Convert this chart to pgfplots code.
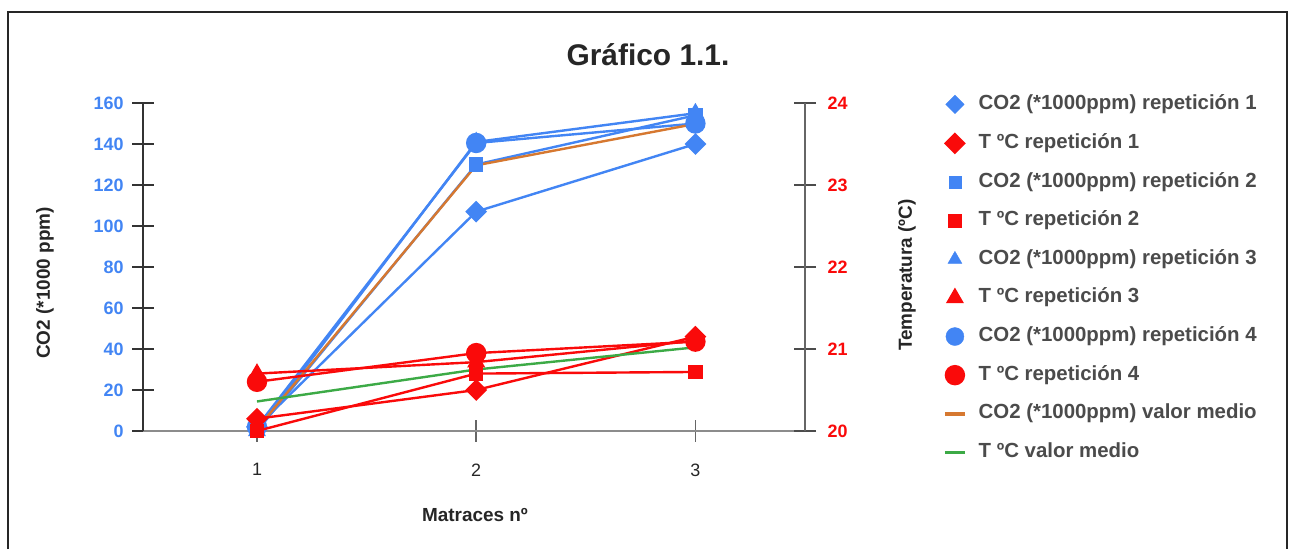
\documentclass[border=0pt]{standalone}
\usepackage{fontspec}
\setmainfont{Liberation Sans}
\usepackage{pgfplots}
\pgfplotsset{compat=1.18}
\definecolor{cblue}{RGB}{66,133,244}
\definecolor{cred}{RGB}{250,10,10}
\definecolor{corange}{RGB}{214,120,48}
\definecolor{cgreen}{RGB}{60,170,70}
\definecolor{ctext}{RGB}{75,75,75}
\pgfplotsset{
  base/.style={scale only axis, width=662bp, height=328bp, at={(0pt,0pt)}, anchor=south west,
    xmin=0.48, xmax=3.5, clip=false,
    /pgf/number format/assume math mode=true,
    tick align=center, major tick length=22bp},
  ser/.style={line width=2.4bp, mark options={solid}},
  mdia/.style={mark=square*, mark size=6.5bp, mark options={rotate=45}},
  msq/.style={mark=square*, mark size=6bp},
  mtri/.style={mark=triangle*, mark size=8bp},
  mcirc/.style={mark=*, mark size=9bp},
  limark/.style={legend image code/.code={\path[draw=none,fill=none] (-10bp,-7bp) rectangle (10bp,7bp); \draw[##1] plot coordinates {(0,0)};}},
  liline/.style={legend image code/.code={\path[draw=none,fill=none] (-10bp,-7bp) rectangle (10bp,7bp); \draw[##1, line width=3.5bp] (-10bp,0) -- (10bp,0);}},
}
\begin{document}
\begin{tikzpicture}
\fill[white] (0bp,0bp) rectangle (1291bp,549bp);
\draw[line width=2bp, black!85] (8bp,0bp) -- (8bp,537bp) -- (1287bp,537bp) -- (1287bp,0bp);
\node[font=\fontsize{30}{34}\selectfont\bfseries, text=black!85] at (648bp,494bp) {Gráfico 1.1.};
\node[font=\fontsize{19}{22}\selectfont\bfseries, text=black!85, rotate=90] at (45bp,266bp) {CO2 (*1000 ppm)};
\node[font=\fontsize{19}{22}\selectfont\bfseries, text=black!85, rotate=90] at (907bp,274bp) {Temperatura (ºC)};
\node[font=\fontsize{19}{22}\selectfont\bfseries, text=black!85] at (475bp,34bp) {Matraces nº};

\begin{scope}[shift={(143bp,118bp)}]
\begin{axis}[base,
  ymin=0, ymax=160, ytick={0,20,...,160},
  axis x line*=bottom, axis y line*=left,
  xtick={1,2,3},
  x axis line style={-, black!45, line width=1.6bp},
  y axis line style={-, black!80, line width=1.6bp},
  xtick style={black!60, line width=1.6bp},
  ytick style={black!80, line width=1.6bp},
  xticklabel style={font=\fontsize{18}{20}\selectfont, text=black!85, yshift=-18bp},
  yticklabel style={font=\fontsize{18}{20}\selectfont\bfseries, text=cblue, xshift=-5bp},
]
\addplot[ser, cblue, mdia] coordinates {(1,2) (2,107) (3,140)};
\addplot[ser, cblue, msq] coordinates {(1,0) (2,130) (3,154)};
\addplot[ser, cblue, mtri] coordinates {(1,0) (2,141) (3,155)};
\addplot[ser, cblue, mcirc] coordinates {(1,2) (2,140.5) (3,150)};
\addplot[ser, corange, mark=none] coordinates {(1,1) (2,129.6) (3,149.8)};
\end{axis}
\end{scope}

\begin{scope}[shift={(143bp,118bp)}]
\begin{axis}[base,
  ymin=20, ymax=24, ytick={20,21,22,23,24},
  axis x line=none, axis y line*=right,
  y axis line style={-, black!60, line width=1.6bp},
  ytick style={black!70, line width=1.6bp},
  yticklabel style={font=\fontsize{18}{20}\selectfont\bfseries, text=cred, xshift=8bp},
  legend style={at={(1.2039,1.0305)}, anchor=north west, draw=none, fill=none,
    font=\fontsize{20.5}{21}\selectfont\bfseries, text=ctext,
    row sep=20.6bp, column sep=12bp,
    nodes={inner sep=0pt, text height=14bp, text depth=4bp}},
  legend cell align=left,
]
\addlegendimage{cblue, mdia, only marks, limark}
\addlegendentry{CO2 (*1000ppm) repetición 1}
\addplot[ser, cred, mdia, limark] coordinates {(1,20.15) (2,20.5) (3,21.15)};
\addlegendentry{T ºC repetición 1}
\addlegendimage{cblue, msq, only marks, limark}
\addlegendentry{CO2 (*1000ppm) repetición 2}
\addplot[ser, cred, msq, limark] coordinates {(1,20.0) (2,20.7) (3,20.72)};
\addlegendentry{T ºC repetición 2}
\addlegendimage{cblue, mtri, only marks, limark}
\addlegendentry{CO2 (*1000ppm) repetición 3}
\addplot[ser, cred, mtri, limark] coordinates {(1,20.7) (2,20.84) (3,21.1)};
\addlegendentry{T ºC repetición 3}
\addlegendimage{cblue, mcirc, only marks, limark}
\addlegendentry{CO2 (*1000ppm) repetición 4}
\addplot[ser, cred, mcirc, limark] coordinates {(1,20.6) (2,20.95) (3,21.09)};
\addlegendentry{T ºC repetición 4}
\addlegendimage{corange, liline}
\addlegendentry{CO2 (*1000ppm) valor medio}
\addplot[ser, cgreen, mark=none, liline] coordinates {(1,20.36) (2,20.75) (3,21.02)};
\addlegendentry{T ºC valor medio}
\end{axis}
\end{scope}
\end{tikzpicture}
\end{document}
